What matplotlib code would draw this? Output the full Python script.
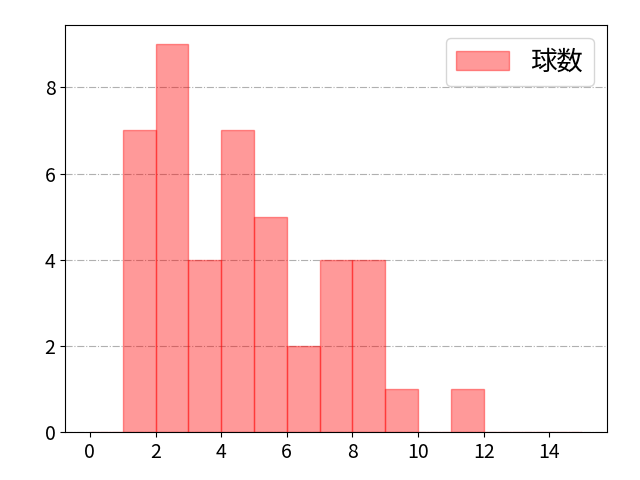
import matplotlib
matplotlib.use("Agg")
import matplotlib.pyplot as plt
import numpy as np

plt.rcParams['font.family'] = ['Noto Sans CJK JP', 'DejaVu Sans']

bin_edges = list(range(0, 16))
bin_counts = [0, 7, 9, 4, 7, 5, 2, 4, 4, 1, 0, 1, 0, 0, 0]
label = "球数"

fig, ax = plt.subplots(figsize=(6.4, 4.8), dpi=100)
ax.hist(bin_edges[:-1], bins=bin_edges, weights=bin_counts,
        color="red", alpha=0.4, edgecolor="red", label=label)
ax.grid(axis="y", linestyle="-.", color="#b0b0b0")
ax.set_axisbelow(True)
ax.set_xticks(range(0, 16, 2))
ax.set_yticks(range(0, 10, 2))
ax.tick_params(labelsize=14)
ax.legend(fontsize=19)
fig.subplots_adjust(left=0.102, right=0.948, top=0.948, bottom=0.1)
fig.savefig("out.png")
